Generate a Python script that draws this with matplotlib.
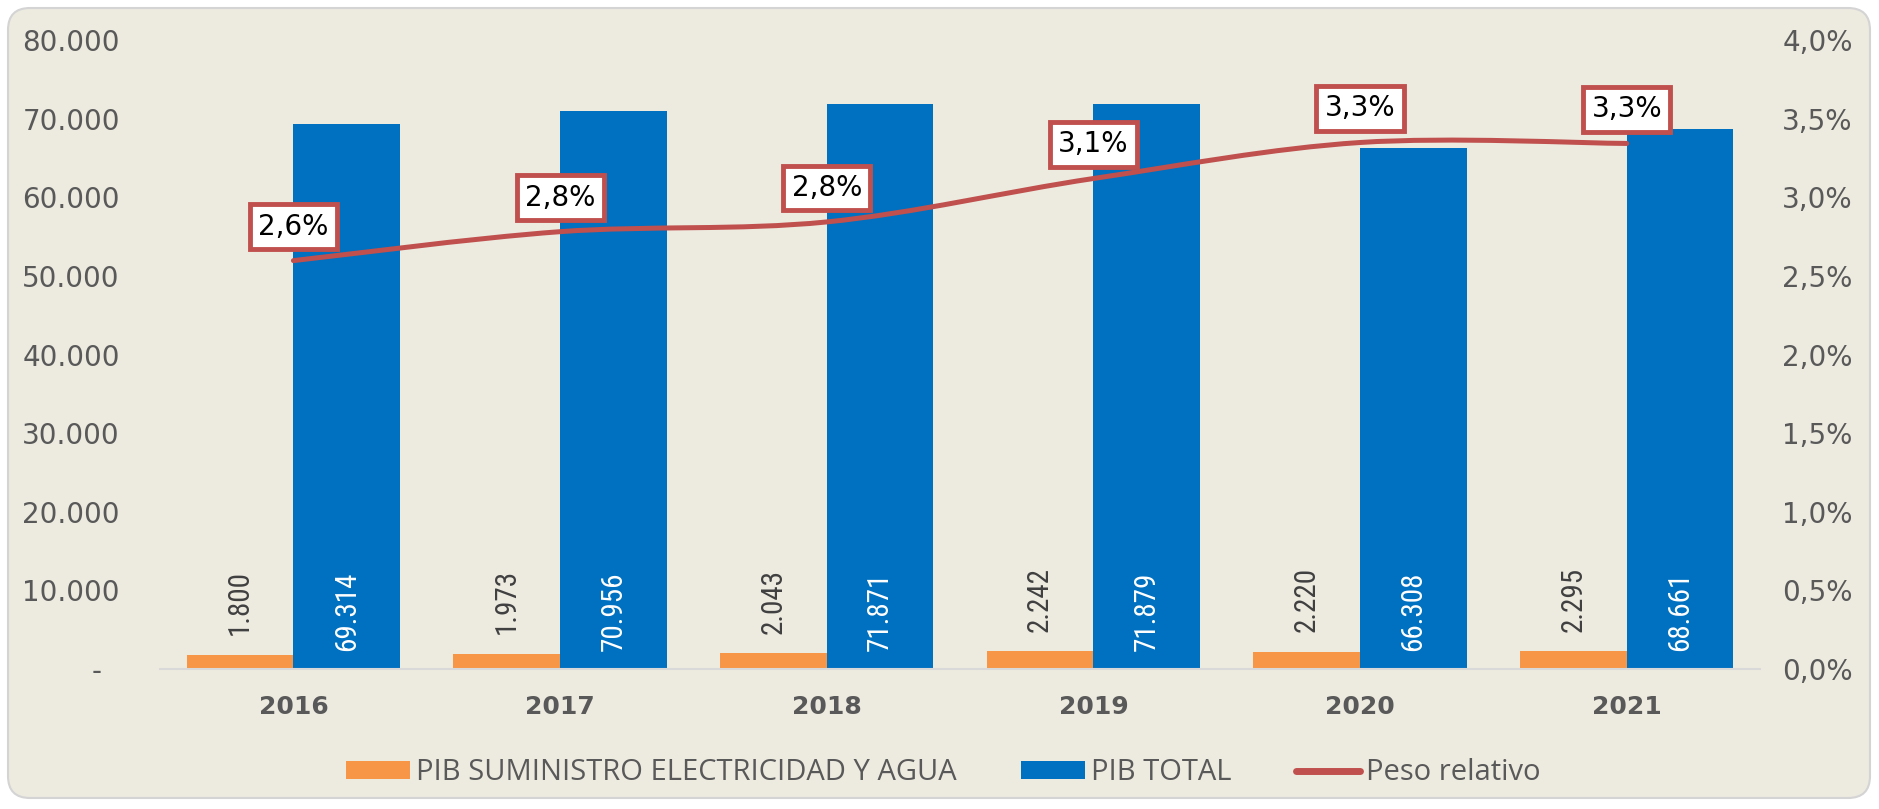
import numpy as np
import matplotlib
matplotlib.use("Agg")
import matplotlib.pyplot as plt
from matplotlib.patches import FancyBboxPatch, PathPatch, Patch
from matplotlib.lines import Line2D
from matplotlib.path import Path
from matplotlib.ticker import FixedLocator, FuncFormatter

# datos
years = ["2016", "2017", "2018", "2019", "2020", "2021"]
pib_electricidad = [1800, 1973, 2043, 2242, 2220, 2295]
pib_total = [69314, 70956, 71871, 71879, 66308, 68661]
peso_relativo = [2.597, 2.781, 2.843, 3.119, 3.348, 3.342]  # %

ORANGE = "#F79646"
BLUE = "#0070C0"
RED = "#C0504D"
GREY = "#595959"
BG = "#EDEAE0"
NARROW = ["Roboto Condensed", "DejaVu Sans"]


def miles(v):
    return f"{v:,.0f}".replace(",", ".")


def smooth_path(xs, ys):
    # curva suavizada tipo Excel (Bezier cubica)
    pts = np.column_stack([xs, ys]).astype(float)
    n = len(pts)
    verts = [pts[0]]
    codes = [Path.MOVETO]
    for i in range(n - 1):
        p0 = pts[i - 1] if i > 0 else pts[i]
        p1 = pts[i]
        p2 = pts[i + 1]
        p3 = pts[i + 2] if i + 2 < n else pts[i + 1]
        c1 = p1 + (p2 - p0) / 6.0
        c2 = p2 - (p3 - p1) / 6.0
        verts += [c1, c2, p2]
        codes += [Path.CURVE4] * 3
    return Path(verts, codes)


fig = plt.figure(figsize=(18.79, 8.09), dpi=100, facecolor="white")
frame = FancyBboxPatch((0.08, 0.11), 18.62, 7.90,
                       boxstyle="round,pad=0,rounding_size=0.22",
                       transform=fig.dpi_scale_trans,
                       facecolor=BG, edgecolor="#D4D4D4", linewidth=1.5, zorder=-10)
fig.add_artist(frame)

ax = fig.add_axes([0.0852, 0.173, 0.8515, 0.7776])
ax.set_facecolor("none")
x = np.arange(len(years))
w = 0.4

ax.bar(x - w / 2, pib_electricidad, width=w, color=ORANGE, zorder=2)
ax.bar(x + w / 2, pib_total, width=w, color=BLUE, zorder=2)

for xi, v in zip(x, pib_electricidad):
    ax.annotate(miles(v), (xi - w / 2, v), xytext=(0, 14), textcoords="offset points",
                rotation=90, ha="center", va="bottom", fontsize=21,
                family=NARROW, color="#404040", zorder=3)
for xi, v in zip(x, pib_total):
    ax.annotate(miles(v), (xi + w / 2, 0), xytext=(0, 13), textcoords="offset points",
                rotation=90, ha="center", va="bottom", fontsize=21,
                family=NARROW, color="white", zorder=3)

ax.set_xlim(-0.5, len(years) - 0.5)
ax.set_ylim(0, 80000)
ax.yaxis.set_major_locator(FixedLocator(np.arange(0, 80001, 10000)))
ax.yaxis.set_major_formatter(FuncFormatter(lambda v, p: "-  " if v == 0 else miles(v)))
ax.set_xticks(x)
ax.set_xticklabels(years, fontsize=18, fontweight="bold", color=GREY)
ax.tick_params(axis="x", length=0, pad=19)
ax.tick_params(axis="y", length=0, pad=29, labelsize=20, labelcolor=GREY)
for s in ["top", "right", "left"]:
    ax.spines[s].set_visible(False)
ax.spines["bottom"].set_color("#D9D9D9")
ax.spines["bottom"].set_linewidth(1.5)

ax2 = ax.twinx()
ax2.set_ylim(0, 4.0)
ax2.yaxis.set_major_locator(FixedLocator(np.arange(0, 4.01, 0.5)))
ax2.yaxis.set_major_formatter(FuncFormatter(lambda v, p: f"{v:.1f}%".replace(".", ",")))
ax2.tick_params(axis="y", length=0, pad=16, labelsize=20, labelcolor=GREY)
for s in ax2.spines.values():
    s.set_visible(False)

line = PathPatch(smooth_path(x, peso_relativo), facecolor="none", edgecolor=RED,
                 linewidth=3.6, capstyle="round", zorder=4)
ax2.add_patch(line)

for xi, v in zip(x, peso_relativo):
    ax2.annotate(f"{v:.1f}%".replace(".", ","), (xi, v), xytext=(0, 24.5),
                 textcoords="offset points", ha="center", va="center",
                 fontsize=20, color="black", zorder=6,
                 bbox=dict(boxstyle="square,pad=0.3", facecolor="white",
                           edgecolor=RED, linewidth=3.5))

handles = [Patch(facecolor=ORANGE, edgecolor="none"),
           Patch(facecolor=BLUE, edgecolor="none"),
           Line2D([0], [0], color=RED, linewidth=5, solid_capstyle="round")]
labels = ["PIB SUMINISTRO ELECTRICIDAD Y AGUA", "PIB TOTAL", "Peso relativo"]
fig.legend(handles, labels, loc="center", bbox_to_anchor=(0.502, 0.0445), ncol=3,
           frameon=False, prop={"family": "Open Sans", "size": 21},
           labelcolor=GREY, handlelength=2.2, handleheight=0.6,
           handletextpad=0.2, columnspacing=2.2)

fig.savefig("out.png", dpi=100, facecolor=fig.get_facecolor())
